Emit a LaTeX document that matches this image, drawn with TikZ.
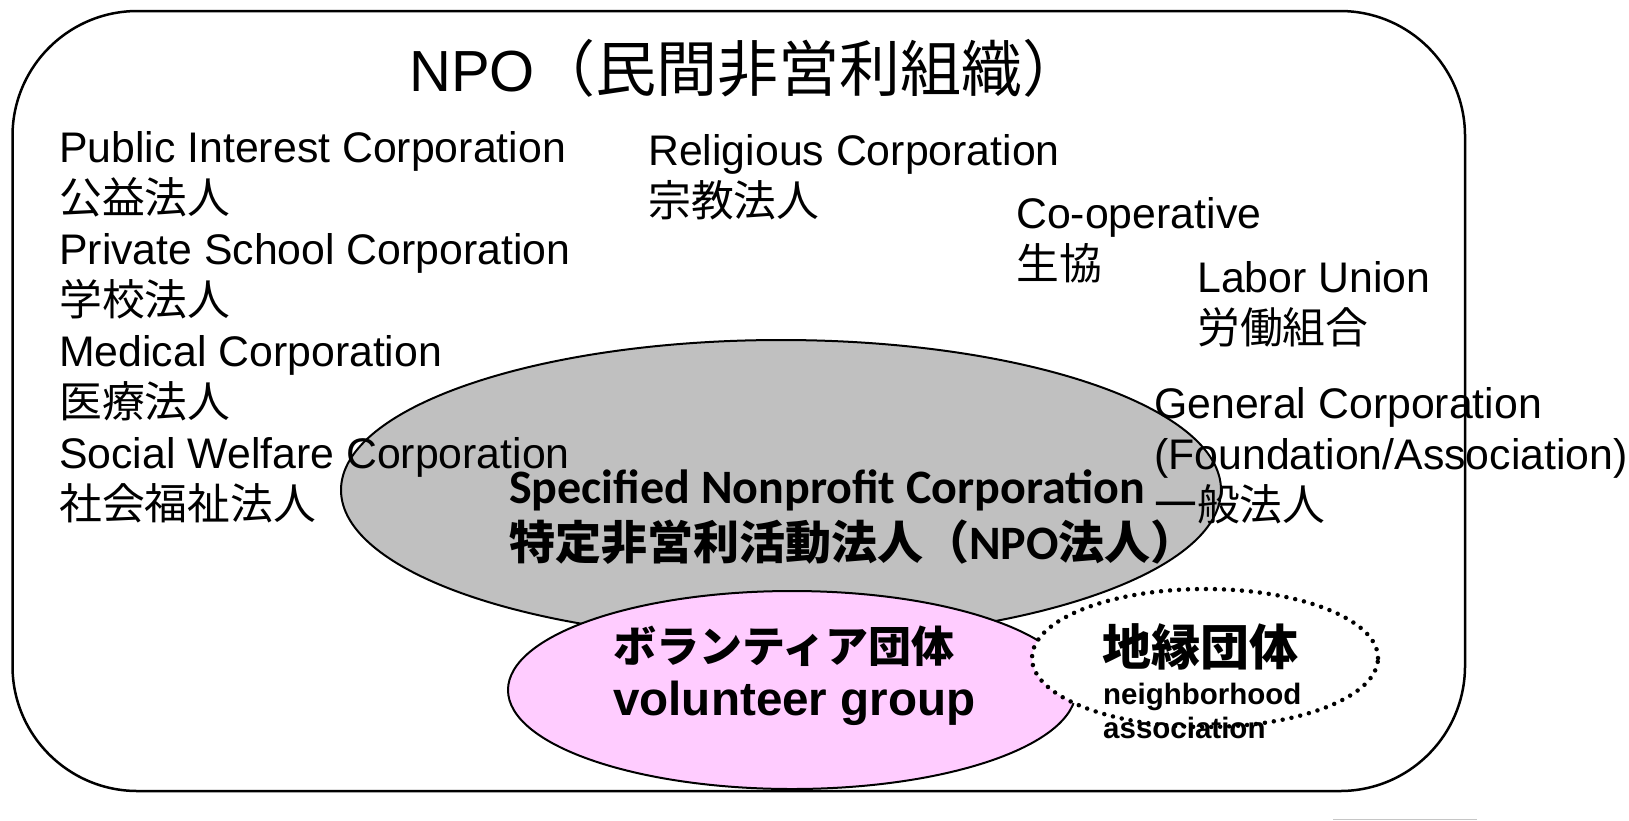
\documentclass[tikz,border=0pt]{standalone}
\usepackage{fontspec}
\setmainfont{Liberation Sans}
\newfontfamily\jafont{Noto Sans CJK JP}
\newfontfamily\calfont{Carlito}
\usetikzlibrary{shapes.geometric}

\definecolor{npogray}{RGB}{192,192,192}
\definecolor{volpink}{RGB}{255,204,255}

\tikzset{
  label text/.style={anchor=base west, inner sep=0pt, align=left,
    font=\fontsize{42.8}{51}\selectfont},
  blob/.style={ellipse, draw=black, line width=2pt, inner sep=0pt},
}

\begin{document}
\begin{tikzpicture}[x=1pt,y=-1pt]
  \useasboundingbox (0,0) rectangle (1629,820);

  % outer frame
  \draw[line width=2.5pt, rounded corners=125pt] (12.5,11) rectangle (1465,791);

  % the three groups
  \node[blob, fill=npogray, minimum width=880, minimum height=300] (tokutei) at (781,490) {};
  \node[blob, fill=volpink, minimum width=568, minimum height=198] (volunteer) at (792,690) {};
  \node[ellipse, draw=black, fill=white, line width=4.5pt, line cap=round,
    dash pattern=on 0pt off 9pt, inner sep=0pt,
    minimum width=346, minimum height=138] (chien) at (1205,658) {};

  % title
  \node[label text, font=\fontsize{58}{70}\selectfont] (title) at (409,91)
    {NPO{\jafont\fontsize{61}{70}\selectfont （民間非営利組織）}};

  % corporations (anchored on the last line)
  \node[label text] (hojin) at (59,519)
    {Public Interest Corporation\\{\jafont 公益法人}\\
     Private School Corporation\\{\jafont 学校法人}\\
     Medical Corporation\\{\jafont 医療法人}\\
     Social Welfare Corporation\\{\jafont 社会福祉法人}};
  \node[label text] (shukyo) at (648,216) {Religious Corporation\\{\jafont 宗教法人}};
  \node[label text] (seikyo) at (1016,279) {Co-operative\\{\jafont 生協}};
  \node[label text] (rodo) at (1197,343) {Labor Union\\{\jafont 労働組合}};
  \node[label text] (ippan) at (1154,520)
    {General Corporation\\(Foundation/Association)\\{\jafont 一般法人}};

  % labels of the ellipses
  \node[label text, font=\calfont\bfseries\fontsize{48}{56}\selectfont] (spec) at (509,559)
    {Specified Nonprofit Corporation\\
     {\jafont\bfseries\fontsize{46}{56}\selectfont 特定非営利活動法人（}NPO{\jafont\bfseries\fontsize{46}{56}\selectfont 法人）}};
  \node[label text, font=\bfseries\fontsize{47.6}{53}\selectfont] (vol) at (613,715)
    {{\jafont\bfseries\fontsize{43}{53}\selectfont ボランティア団体}\\volunteer group};
  \node[label text, font=\jafont\bfseries\fontsize{49}{56}\selectfont] (chientitle) at (1102,665) {地縁団体};
  \node[label text, font=\bfseries\fontsize{29.5}{34}\selectfont] (chiensub) at (1103,738)
    {neighborhood\\association};

  \draw[gray!45, line width=1pt] (1333,819) -- (1477,819);
\end{tikzpicture}
\end{document}
